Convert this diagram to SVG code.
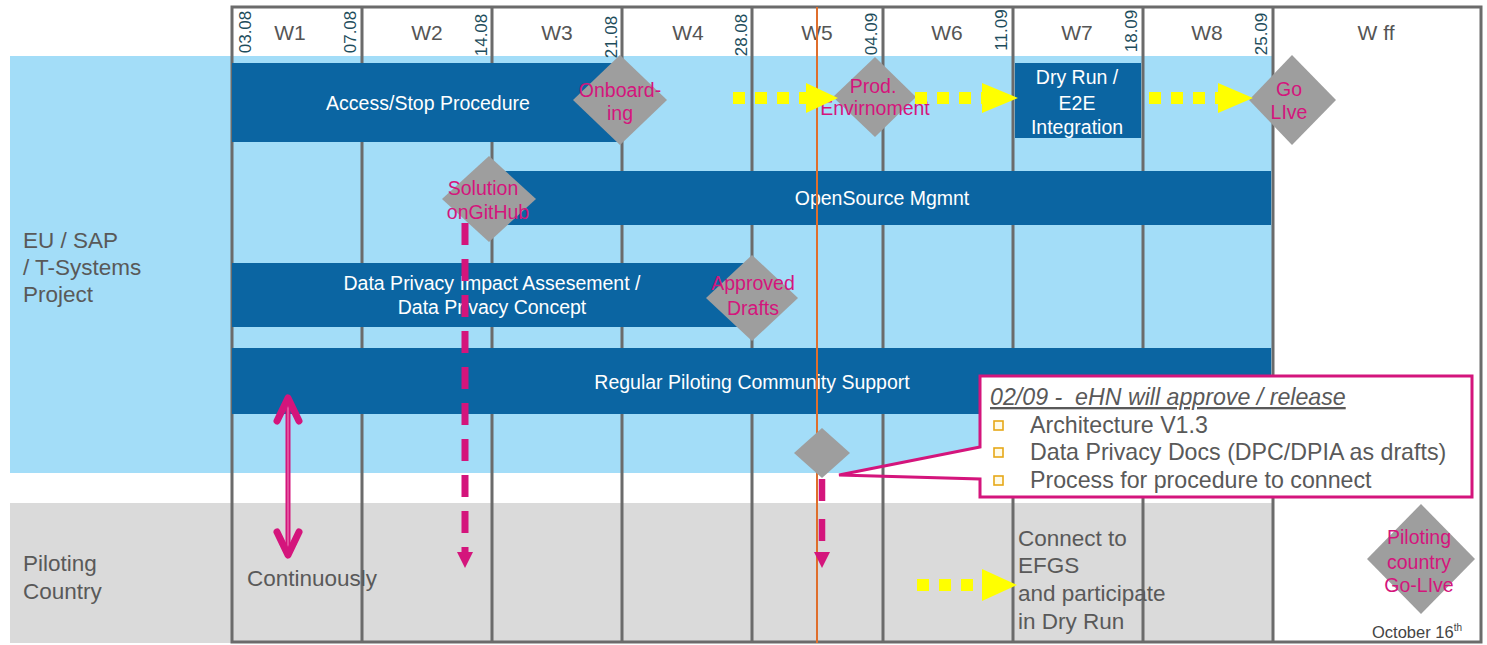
<svg xmlns="http://www.w3.org/2000/svg" width="1487" height="645" viewBox="0 0 1487 645">
<style>
text{font-family:"Liberation Sans",Arial,sans-serif}
.grid{stroke:#6b6b6b;stroke-width:3;fill:none}
.bar{fill:#0b65a2}
.bt{fill:#fff;font-size:19.5px;text-anchor:middle}
.dia{fill:#9e9e9e}
.mt{fill:#d4157c;font-size:19.5px;text-anchor:middle}
.gt{fill:#595959;font-size:22.5px}
.wl{fill:#555;font-size:21px;text-anchor:middle}
.dt{fill:#1e4d5c;font-size:17px;text-anchor:middle}
.yd{stroke:#ffff00;stroke-width:12;stroke-dasharray:12 10;fill:none}
.yh{fill:#ffff00}
.md{stroke:#d4157c;stroke-width:7;stroke-dasharray:22 14;fill:none}
.mh{fill:#d4157c}
.ct{fill:#595959;font-size:23.2px}
.bul{fill:#fffbe8;stroke:#e6a817;stroke-width:1.6}
</style>
<rect x="0" y="0" width="1487" height="645" fill="#fff"/>
<g id="lanes">
<rect x="10" y="56" width="1263" height="417" fill="#a3ddf8"/>
<rect x="10" y="503" width="1263" height="140" fill="#dadada"/>
<text class="gt" x="23" y="248">EU / SAP</text>
<text class="gt" x="23" y="275">/ T-Systems</text>
<text class="gt" x="23" y="302">Project</text>
<text class="gt" x="23" y="571">Piloting</text>
<text class="gt" x="23" y="599">Country</text>
</g>
<polygon points="980,447 839,475 980,479" fill="#fff"/>
<g id="grid">
<path class="grid" d="M232,7H1481V642H232Z"/>
<path class="grid" d="M362,7V643M492,7V643M622,7V643M752,7V643M883,7V643M1013,7V643M1143,7V643M1273,7V643"/>
</g>
<g id="header">
<text class="wl" x="290" y="40">W1</text>
<text class="wl" x="427" y="40">W2</text>
<text class="wl" x="557" y="40">W3</text>
<text class="wl" x="688" y="40">W4</text>
<text class="wl" x="817" y="40">W5</text>
<text class="wl" x="947" y="40">W6</text>
<text class="wl" x="1077" y="40">W7</text>
<text class="wl" x="1207" y="40">W8</text>
<text class="wl" x="1376" y="40">W ff</text>
<text class="dt" transform="translate(251,32) rotate(-90)">03.08</text>
<text class="dt" transform="translate(356,32) rotate(-90)">07.08</text>
<text class="dt" transform="translate(487,35) rotate(-90)">14.08</text>
<text class="dt" transform="translate(617,37) rotate(-90)">21.08</text>
<text class="dt" transform="translate(747,35) rotate(-90)">28.08</text>
<text class="dt" transform="translate(877,34) rotate(-90)">04.09</text>
<text class="dt" transform="translate(1007,30) rotate(-90)">11.09</text>
<text class="dt" transform="translate(1137,31) rotate(-90)">18.09</text>
<text class="dt" transform="translate(1267,34) rotate(-90)">25.09</text>
</g>
<g id="bar-access">
<rect class="bar" x="232" y="63" width="388" height="79"/>
<text class="bt" x="428" y="110">Access/Stop Procedure</text>
</g>
<g id="bar-dryrun">
<rect class="bar" x="1015" y="63" width="126" height="75"/>
<text class="bt" x="1077" y="84">Dry Run /</text>
<text class="bt" x="1077" y="110">E2E</text>
<text class="bt" x="1077" y="134">Integration</text>
</g>
<g id="bar-opensource">
<rect class="bar" x="505" y="171" width="766" height="54"/>
<text class="bt" x="882" y="205">OpenSource Mgmnt</text>
</g>
<g id="bar-privacy">
<rect class="bar" x="232" y="263" width="528" height="64"/>
<text class="bt" x="492" y="290">Data Privacy Impact Assesement /</text>
<text class="bt" x="492" y="314">Data Privacy Concept</text>
</g>
<g id="bar-support">
<rect class="bar" x="232" y="348" width="1039" height="66"/>
<text class="bt" x="752" y="389">Regular Piloting Community Support</text>
</g>
<line x1="817" y1="7" x2="817" y2="643" stroke="#df6e2c" stroke-width="2"/>
<g id="ms-onboarding">
<polygon class="dia" points="620,55 667,100 620,145 573,100"/>
<text class="mt" x="620" y="97">Onboard-</text>
<text class="mt" x="620" y="120">ing</text>
</g>
<g id="ms-prod">
<polygon class="dia" points="875,57 916,97 875,137 833,97"/>
<text class="mt" x="873" y="93">Prod.</text>
<text class="mt" x="875" y="115">Envirnoment</text>
</g>
<g id="ms-golive">
<polygon class="dia" points="1292,55 1336,100 1292,145 1249,100"/>
<text class="mt" x="1289" y="96">Go</text>
<text class="mt" x="1289" y="119">LIve</text>
</g>
<g id="ms-github">
<polygon class="dia" points="489,156 536,199 489,242 442,199"/>
<text class="mt" x="483" y="195">Solution</text>
<text class="mt" x="488" y="219">onGitHub</text>
</g>
<g id="ms-approved">
<polygon class="dia" points="752,255 798,298 752,341 706,298"/>
<text class="mt" x="753" y="290">Approved</text>
<text class="mt" x="753" y="315">Drafts</text>
</g>
<g id="ms-release">
<polygon class="dia" points="822,428 850,453 822,478 794,453"/>
</g>
<g id="ms-country">
<polygon class="dia" points="1421,504 1475,559 1421,614 1367,559"/>
<text class="mt" x="1419" y="544">Piloting</text>
<text class="mt" x="1419" y="569">country</text>
<text class="mt" x="1419" y="592">Go-LIve</text>
</g>
<g id="pilot-texts">
<text class="gt" x="247" y="586">Continuously</text>
<text class="gt" x="1018" y="546">Connect to</text>
<text class="gt" x="1018" y="573">EFGS</text>
<text class="gt" x="1018" y="601">and participate</text>
<text class="gt" x="1018" y="629">in Dry Run</text>
<text x="1372" y="638" fill="#444" font-size="16.5">October 16<tspan font-size="10" dy="-7">th</tspan></text>
</g>
<g id="connectors">
<line class="yd" x1="733" y1="98" x2="811" y2="98"/>
<polygon class="yh" points="806,83 838,98 806,113"/>
<line class="yd" x1="915" y1="98" x2="993" y2="98"/>
<polygon class="yh" points="982,83 1018,98 982,113"/>
<line class="yd" x1="1149" y1="98" x2="1227" y2="98"/>
<polygon class="yh" points="1218,83 1253,98 1218,113"/>
<line class="yd" x1="917" y1="585" x2="995" y2="585"/>
<polygon class="yh" points="982,569 1017,585 982,601"/>
<line class="md" x1="465" y1="223" x2="465" y2="553"/>
<polygon class="mh" points="457,552 473,552 465,568"/>
<line class="md" x1="822" y1="479" x2="822" y2="553" style="stroke-dasharray:22 18;stroke-width:6.5"/>
<polygon class="mh" points="814,552 830,552 822,568"/>
<line x1="288" y1="400" x2="288" y2="553" stroke="#d4157c" stroke-width="5"/>
<line x1="288" y1="402" x2="288" y2="551" stroke="#ec7ab4" stroke-width="1.2"/>
<path d="M277,421L288,398L299,421M277,532L288,555L299,532" fill="none" stroke="#d4157c" stroke-width="7" stroke-linecap="round" stroke-linejoin="round"/>
</g>
<g id="callout">
<rect x="980" y="376" width="492" height="121" fill="#fff"/>
<path d="M980,447V376H1472V497H980V479L839,475Z" fill="none" stroke="#d4157c" stroke-width="3" stroke-linejoin="miter"/>
<text class="ct" x="990" y="405" font-size="23.4" font-style="italic" text-decoration="underline" xml:space="preserve">02/09 -  eHN will approve / release</text>
<rect class="bul" x="994" y="421" width="9" height="9"/>
<rect class="bul" x="994" y="448" width="9" height="9"/>
<rect class="bul" x="994" y="476" width="9" height="9"/>
<text class="ct" x="1030" y="433">Architecture V1.3</text>
<text class="ct" x="1030" y="460">Data Privacy Docs (DPC/DPIA as drafts)</text>
<text class="ct" x="1030" y="488">Process for procedure to connect</text>
</g>
</svg>
